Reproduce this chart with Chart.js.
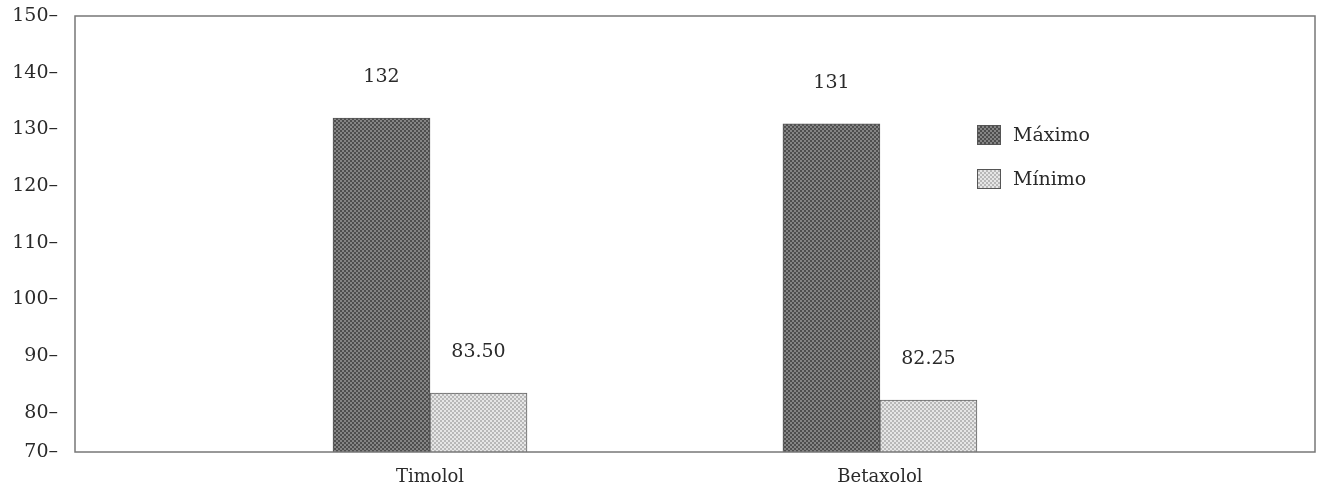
<!DOCTYPE html>
<html>
<head>
<meta charset="utf-8">
<script src="https://cdn.jsdelivr.net/npm/chart.js@4/dist/chart.umd.min.js"></script>
<style>
html,body{margin:0;padding:0;background:#fff;}
#wrap{width:1319px;height:495px;}
</style>
</head>
<body>
<div id="wrap"><canvas id="c" width="1319" height="495"></canvas></div>
<script>
const categories = ['Timolol', 'Betaxolol'];
const seriesNames = ['Máximo', 'Mínimo'];
const maxValues = [132, 131];
const minValues = [83.5, 82.25];
const yTickValues = [73.1, 80, 90, 100, 110, 120, 130, 140, 150];
const yTickLabels = ['70', '80', '90', '100', '110', '120', '130', '140', '150'];

const FONT = '"DejaVu Serif", "Liberation Serif", serif';
const TXT = '#2a2a2a';

function makePattern(base, dot) {
  const t = document.createElement('canvas');
  t.width = 4; t.height = 4;
  const g = t.getContext('2d');
  g.fillStyle = base; g.fillRect(0, 0, 4, 4);
  g.fillStyle = dot;
  g.fillRect(0, 0, 2, 2);
  g.fillRect(2, 2, 2, 2);
  return g.createPattern(t, 'repeat');
}
const ctx0 = document.getElementById('c').getContext('2d');
const patMax = makePattern('#4e4e4e', '#858585');
const patMin = makePattern('#e6e6e6', '#b8b8b8');

const framePlugin = {
  id: 'frame',
  afterDraw(chart) {
    const {ctx, chartArea: a} = chart;
    ctx.save();
    ctx.strokeStyle = '#777';
    ctx.lineWidth = 1.5;
    ctx.strokeRect(a.left, a.top, a.right - a.left, a.bottom - a.top);
    // value labels
    ctx.fillStyle = TXT;
    ctx.font = '19px ' + FONT;
    ctx.textAlign = 'center';
    ctx.textBaseline = 'middle';
    chart.data.datasets.forEach((ds, di) => {
      const meta = chart.getDatasetMeta(di);
      meta.data.forEach((bar, i) => {
        const v = ds.data[i].y;
        const txt = di === 0 ? v.toFixed(0) : v.toFixed(2);
        ctx.fillText(txt, bar.x, bar.y - 41);
      });
    });
    // legend
    const lx = 977, ly = [125, 169];
    chart.data.datasets.forEach((ds, di) => {
      ctx.fillStyle = ds.backgroundColor;
      ctx.fillRect(lx, ly[di], 24, 20);
      ctx.strokeStyle = '#555';
      ctx.lineWidth = 1;
      ctx.strokeRect(lx + 0.5, ly[di] + 0.5, 23, 19);
      ctx.fillStyle = TXT;
      ctx.textAlign = 'left';
      ctx.fillText(ds.label, 1013, ly[di] + 11);
    });
    ctx.restore();
  }
};

new Chart(ctx0, {
  type: 'bar',
  data: {
    datasets: [
      { label: seriesNames[0], data: maxValues.map((v, i) => ({x: i + 1, y: v})),
        backgroundColor: patMax, borderColor: '#555', borderWidth: 1, barThickness: 97 },
      { label: seriesNames[1], data: minValues.map((v, i) => ({x: i + 1, y: v})),
        backgroundColor: patMin, borderColor: '#666', borderWidth: 1, barThickness: 97 }
    ]
  },
  options: {
    responsive: false,
    animation: false,
    layout: { padding: { top: 16, right: 4, left: 0, bottom: 0 } },
    plugins: { legend: { display: false }, tooltip: { enabled: false } },
    scales: {
      x: {
        type: 'linear',
        offset: false,
        min: 0.211, max: 2.967,
        grid: { display: false, drawTicks: false, offset: false },
        border: { display: false },
        afterBuildTicks(s) { s.ticks = categories.map((c, i) => ({value: i + 1})); },
        ticks: {
          padding: 15,
          color: TXT,
          font: { family: FONT, size: 18 },
          callback: (v) => categories[v - 1]
        },
        afterFit(s) { s.height = 43; s.paddingLeft = 0; s.paddingRight = 0; }
      },
      y: {
        min: 73.1, max: 150,
        grid: { display: false, drawTicks: false },
        border: { display: false },
        afterBuildTicks(s) { s.ticks = yTickValues.map(v => ({value: v})); },
        ticks: {
          padding: 17,
          color: TXT,
          font: { family: FONT, size: 19 },
          callback: (v) => { const k = yTickValues.indexOf(v); return (k >= 0 ? yTickLabels[k] : '') + '–'; }
        },
        afterFit(s) { s.width = 75; s.paddingTop = 0; s.paddingBottom = 0; }
      }
    }
  },
  plugins: [framePlugin]
});
</script>
</body>
</html>
